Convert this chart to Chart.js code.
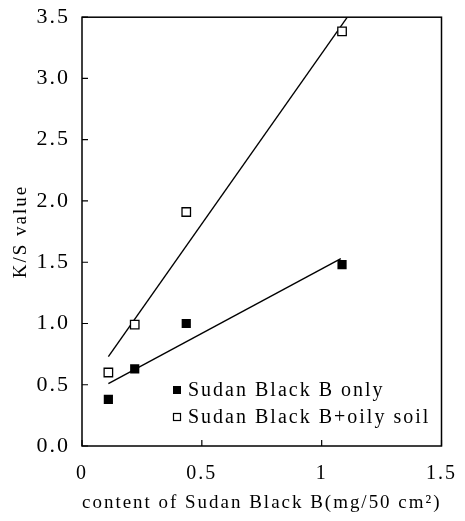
<!DOCTYPE html>
<html lang="en">
<head>
  <meta charset="UTF-8" />
  <title>K/S value</title>
  <script src="https://cdn.jsdelivr.net/npm/chart.js"></script>
  <style>
    body { margin: 0; background: #fff; }
    canvas { display: block; }
  </style>
</head>
<body>
  <canvas id="chart" width="465" height="521"></canvas>

  <script>
    // values
    const content = [0.11, 0.22, 0.435, 1.085];
    const ksOnly = [0.38, 0.63, 1.0, 1.48];
    const ksOily = [0.60, 0.99, 1.91, 3.385];
    const fitOnlyX = [0.11, 1.08];
    const fitOnlyY = [0.51, 1.53];
    const fitOilyX = [0.11, 1.107];
    const fitOilyY = [0.73, 3.5];
    const xTicks = [0, 0.5, 1, 1.5];
    const yTicks = [0, 0.5, 1, 1.5, 2, 2.5, 3, 3.5];

    const serif = "'Liberation Serif', 'DejaVu Serif', serif";
    const pts = (xs, ys) => xs.map((x, i) => ({ x: x, y: ys[i] }));

    const spacing = {
      id: 'spacing',
      beforeUpdate(c) { c.ctx.letterSpacing = '2px'; },
      beforeDraw(c) { c.ctx.letterSpacing = '2px'; }
    };

    const frame = {
      id: 'frame',
      afterDraw(c) {
        const ctx = c.ctx, a = c.chartArea;
        ctx.save();
        ctx.strokeStyle = '#000';
        ctx.lineWidth = 1.5;
        ctx.strokeRect(a.left, a.top, a.right - a.left, a.bottom - a.top);
        ctx.lineWidth = 1.2;
        ctx.beginPath();
        c.scales.x.ticks.forEach(t => {
          const px = c.scales.x.getPixelForValue(t.value);
          ctx.moveTo(px, a.bottom); ctx.lineTo(px, a.bottom - 6);
        });
        c.scales.y.ticks.forEach(t => {
          const py = c.scales.y.getPixelForValue(t.value);
          ctx.moveTo(a.left, py); ctx.lineTo(a.left + 6, py);
        });
        ctx.stroke();

        // legend inside the plot
        ctx.font = '20px ' + serif;
        ctx.letterSpacing = '2px';
        ctx.textBaseline = 'middle';
        ctx.fillStyle = '#000';
        const items = [c.data.datasets[0], c.data.datasets[1]];
        items.forEach((ds, i) => {
          const y = 390 + i * 27;
          if (i === 0) {
            ctx.fillRect(173, y - 4, 8, 8);
          } else {
            ctx.lineWidth = 1.2;
            ctx.strokeRect(173.5, y - 3.5, 7, 7);
          }
          ctx.fillText(ds.label, 188, y + 1);
        });
        ctx.restore();
      }
    };

    const ctx = document.getElementById('chart').getContext('2d');
    const chart = new Chart(ctx, {
      type: 'scatter',
      data: {
        datasets: [{
          label: 'Sudan Black B only',
          data: pts(content, ksOnly),
          pointStyle: 'rect',
          pointRadius: 6.5,
          backgroundColor: '#000',
          borderColor: '#000',
          borderWidth: 0
        }, {
          label: 'Sudan Black B+oily soil',
          data: pts(content, ksOily),
          pointStyle: 'rect',
          pointRadius: 6,
          backgroundColor: '#fff',
          borderColor: '#000',
          borderWidth: 1.3
        }, {
          label: 'fit only',
          type: 'line',
          data: pts(fitOnlyX, fitOnlyY),
          borderColor: '#000',
          borderWidth: 1.4,
          pointRadius: 0
        }, {
          label: 'fit oily',
          type: 'line',
          data: pts(fitOilyX, fitOilyY),
          borderColor: '#000',
          borderWidth: 1.4,
          pointRadius: 0
        }]
      },
      options: {
        responsive: false,
        animation: false,
        layout: { padding: { top: 15, right: 15, left: 0, bottom: 0 } },
        plugins: { legend: { display: false }, tooltip: { enabled: false } },
        scales: {
          x: {
            type: 'linear',
            min: 0, max: 1.5,
            afterBuildTicks: s => { s.ticks = xTicks.map(v => ({ value: v })); },
            afterFit: s => { s.height = 75; },
            grid: { display: false },
            border: { display: false },
            ticks: {
              color: '#000', padding: 8,
              font: { family: serif, size: 20 },
              callback: v => String(v)
            },
            title: {
              display: true,
              text: 'content of Sudan Black B(mg/50 cm²)',
              color: '#000',
              font: { family: serif, size: 19 },
              padding: { top: 0, bottom: 7 }
            }
          },
          y: {
            min: 0, max: 3.5,
            afterBuildTicks: s => { s.ticks = yTicks.map(v => ({ value: v })); },
            afterFit: s => { s.width = 82; },
            grid: { display: false },
            border: { display: false },
            ticks: {
              color: '#000', padding: 4,
              font: { family: serif, size: 22 },
              callback: v => v.toFixed(1)
            },
            title: {
              display: true,
              text: 'K/S value',
              color: '#000',
              font: { family: serif, size: 19 },
              padding: { top: 10, bottom: 0 }
            }
          }
        }
      },
      plugins: [spacing, frame]
    });
  </script>
</body>
</html>
